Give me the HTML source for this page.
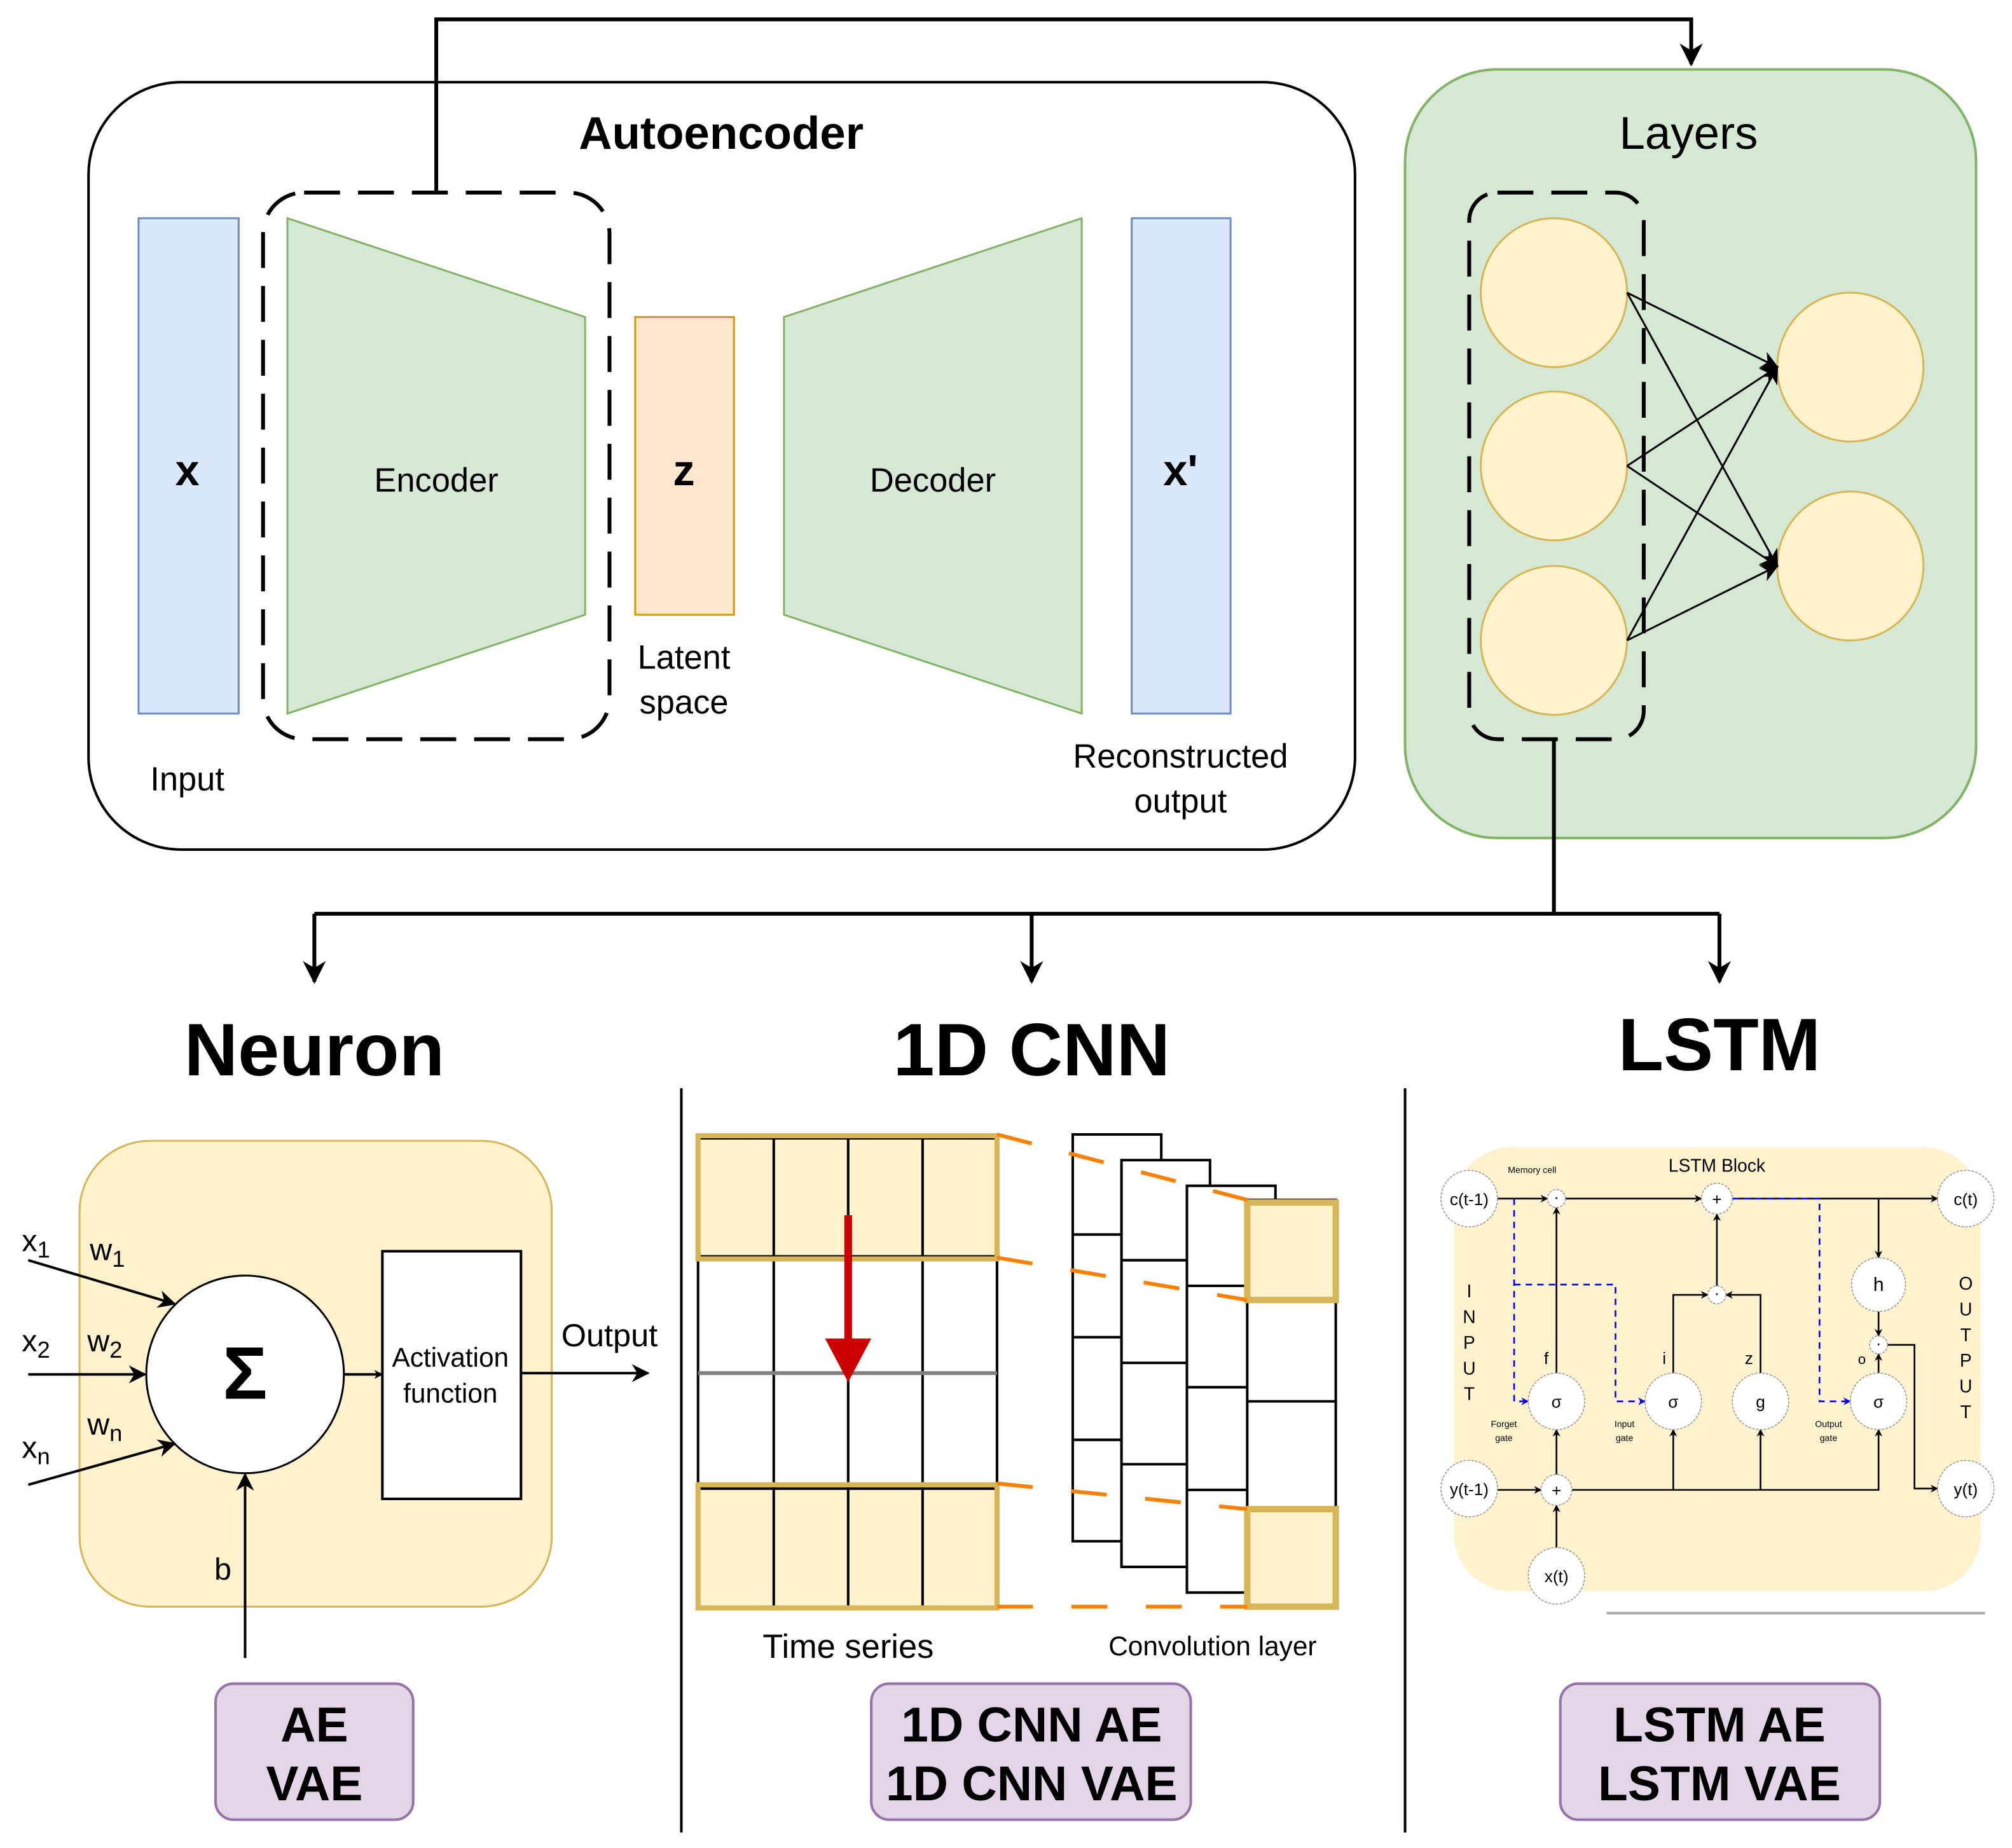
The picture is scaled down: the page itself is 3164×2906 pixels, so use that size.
<!DOCTYPE html>
<html><head><meta charset="utf-8"><style>
html,body{margin:0;padding:0;background:#fff}
svg{display:block}
text{font-family:"Liberation Sans",Arial,sans-serif}
</style></head><body>
<svg width="3164" height="2906" viewBox="0 0 1568 1440" xmlns="http://www.w3.org/2000/svg">
<defs>
<marker id="a" viewBox="0 0 10 10" refX="9" refY="5" markerWidth="7" markerHeight="7" orient="auto" markerUnits="userSpaceOnUse"><path d="M0,0 L10,5 L0,10 L3,5 z" fill="#000"/></marker>
<marker id="A" viewBox="0 0 10 10" refX="9" refY="5" markerWidth="18" markerHeight="18" orient="auto" markerUnits="userSpaceOnUse"><path d="M0,0 L10,5 L0,10 L3,5 z" fill="#000"/></marker>
<marker id="B" viewBox="0 0 10 10" refX="9" refY="5" markerWidth="14" markerHeight="14" orient="auto" markerUnits="userSpaceOnUse"><path d="M0,0 L10,5 L0,10 L3,5 z" fill="#000"/></marker>
<marker id="s" viewBox="0 0 10 10" refX="9" refY="5" markerWidth="6" markerHeight="6" orient="auto" markerUnits="userSpaceOnUse"><path d="M0,0 L10,5 L0,10 L3,5 z" fill="#000"/></marker>
<marker id="sb" viewBox="0 0 10 10" refX="9" refY="5" markerWidth="6" markerHeight="6" orient="auto" markerUnits="userSpaceOnUse"><path d="M0,0 L10,5 L0,10 L3,5 z" fill="#00f"/></marker>
</defs>

<!-- top connector -->
<polyline points="340,150 340,15 1318,15 1318,50" fill="none" stroke="#000" stroke-width="3" marker-end="url(#A)"/>

<!-- Autoencoder -->
<rect x="69" y="64" width="987" height="598" rx="72" fill="none" stroke="#000" stroke-width="2"/>
<text x="562" y="116" font-size="36" font-weight="bold" text-anchor="middle">Autoencoder</text>
<rect x="108" y="170" width="78" height="386" fill="#dae8fc" stroke="#6c8ebf" stroke-width="1.5"/>
<text x="146" y="378" font-size="34" font-weight="bold" text-anchor="middle">x</text>
<polygon points="224,170 456,247 456,479 224,556" fill="#d5e8d4" stroke="#82b366" stroke-width="1.5"/>
<text x="340" y="383" font-size="26" text-anchor="middle">Encoder</text>
<rect x="495" y="247" width="77" height="232" fill="#ffe6cc" stroke="#d79b00" stroke-width="1.5"/>
<text x="533" y="378" font-size="34" font-weight="bold" text-anchor="middle">z</text>
<polygon points="611,247 843,170 843,556 611,479" fill="#d5e8d4" stroke="#82b366" stroke-width="1.5"/>
<text x="727" y="383" font-size="26" text-anchor="middle">Decoder</text>
<rect x="882" y="170" width="77" height="386" fill="#dae8fc" stroke="#6c8ebf" stroke-width="1.5"/>
<text x="920" y="378" font-size="34" font-weight="bold" text-anchor="middle">x'</text>
<rect x="205" y="150" width="270" height="426" rx="32" fill="none" stroke="#000" stroke-width="3" stroke-dasharray="28,14"/>
<text x="146" y="616" font-size="26" text-anchor="middle">Input</text>
<text x="533" y="521" font-size="26" text-anchor="middle">Latent</text>
<text x="533" y="556" font-size="26" text-anchor="middle">space</text>
<text x="920" y="598" font-size="26" text-anchor="middle">Reconstructed</text>
<text x="920" y="633" font-size="26" text-anchor="middle">output</text>

<!-- Layers -->
<rect x="1095" y="54" width="445" height="599" rx="72" fill="#d5e8d4" stroke="#82b366" stroke-width="2"/>
<text x="1316" y="116" font-size="36" text-anchor="middle">Layers</text>
<g fill="#fff2cc" stroke="#d6b656" stroke-width="1.5">
<ellipse cx="1211" cy="228" rx="57" ry="58"/>
<ellipse cx="1211" cy="363" rx="57" ry="58"/>
<ellipse cx="1211" cy="499" rx="57" ry="58"/>
<ellipse cx="1442" cy="286" rx="57" ry="58"/>
<ellipse cx="1442" cy="441" rx="57" ry="58"/>
</g>
<g stroke="#000" stroke-width="1.5" marker-end="url(#B)">
<line x1="1268" y1="228" x2="1385" y2="286"/>
<line x1="1268" y1="228" x2="1385" y2="441"/>
<line x1="1268" y1="363" x2="1385" y2="286"/>
<line x1="1268" y1="363" x2="1385" y2="441"/>
<line x1="1268" y1="499" x2="1385" y2="286"/>
<line x1="1268" y1="499" x2="1385" y2="441"/>
</g>
<rect x="1145" y="150" width="136" height="426" rx="22" fill="none" stroke="#000" stroke-width="3" stroke-dasharray="28,14"/>

<!-- split connector -->
<g fill="none" stroke="#000" stroke-width="3">
<polyline points="1211,576 1211,712"/>
<line x1="245" y1="712" x2="1340" y2="712"/>
<line x1="245" y1="712" x2="245" y2="765" marker-end="url(#A)"/>
<line x1="804" y1="712" x2="804" y2="765" marker-end="url(#A)"/>
<line x1="1340" y1="712" x2="1340" y2="765" marker-end="url(#A)"/>
</g>

<text x="245" y="838" font-size="58" font-weight="bold" text-anchor="middle">Neuron</text>
<text x="804" y="838" font-size="58" font-weight="bold" text-anchor="middle">1D CNN</text>
<text x="1340" y="834" font-size="58" font-weight="bold" text-anchor="middle">LSTM</text>
<line x1="531" y1="848" x2="531" y2="1428" stroke="#000" stroke-width="2"/>
<line x1="1095" y1="848" x2="1095" y2="1428" stroke="#000" stroke-width="2"/>

<!-- Neuron -->
<rect x="62" y="889" width="368" height="363" rx="55" fill="#fff2cc" stroke="#d6b656" stroke-width="1.5"/>
<ellipse cx="191" cy="1071" rx="77" ry="77" fill="#fff" stroke="#000" stroke-width="1.5"/>
<text x="191" y="1090" font-size="58" font-weight="bold" text-anchor="middle">Σ</text>
<rect x="298" y="975" width="108" height="193" fill="#fff" stroke="#000" stroke-width="2"/>
<text x="351" y="1065" font-size="21" text-anchor="middle">Activation</text>
<text x="351" y="1093" font-size="21" text-anchor="middle">function</text>
<g stroke="#000" stroke-width="2">
<line x1="268" y1="1071" x2="298" y2="1071" marker-end="url(#a)"/>
<line x1="406" y1="1070" x2="505" y2="1070" marker-end="url(#B)"/>
<line x1="22" y1="982" x2="136" y2="1016" marker-end="url(#B)"/>
<line x1="22" y1="1071" x2="113" y2="1071" marker-end="url(#B)"/>
<line x1="22" y1="1157" x2="136" y2="1125" marker-end="url(#B)"/>
<line x1="191" y1="1292" x2="191" y2="1149" marker-end="url(#B)"/>
</g>
<text x="475" y="1049" font-size="25" text-anchor="middle">Output</text>
<g font-size="24">
<text x="17" y="975">x<tspan font-size="18" dy="5">1</tspan></text>
<text x="70" y="982">w<tspan font-size="18" dy="5">1</tspan></text>
<text x="17" y="1053">x<tspan font-size="18" dy="5">2</tspan></text>
<text x="68" y="1053">w<tspan font-size="18" dy="5">2</tspan></text>
<text x="17" y="1136">x<tspan font-size="18" dy="5">n</tspan></text>
<text x="68" y="1118">w<tspan font-size="18" dy="5">n</tspan></text>
<text x="167" y="1231">b</text>
</g>

<!-- 1D CNN time series -->
<rect x="544" y="885" width="233" height="95" fill="#fff2cc"/>
<rect x="544" y="1158" width="233" height="94" fill="#fff2cc"/>
<g stroke="#000" stroke-width="2" fill="none">
<rect x="544" y="887" width="233" height="365"/>
<line x1="603" y1="887" x2="603" y2="1252"/>
<line x1="661" y1="887" x2="661" y2="1252"/>
<line x1="719" y1="887" x2="719" y2="1252"/>
<line x1="544" y1="979" x2="777" y2="979"/>
<line x1="544" y1="1160" x2="777" y2="1160"/>
</g>
<line x1="544" y1="1070" x2="777" y2="1070" stroke="#808080" stroke-width="3"/>
<rect x="544" y="885" width="233" height="96" fill="none" stroke="#d6b656" stroke-width="4"/>
<rect x="544" y="1157" width="233" height="96" fill="none" stroke="#d6b656" stroke-width="4"/>
<line x1="661" y1="947" x2="661" y2="1050" stroke="#c00" stroke-width="6"/>
<polygon points="643,1043 679,1043 661,1077" fill="#c00"/>

<!-- conv layers -->
<g stroke="#000" stroke-width="2" fill="#fff">
<rect x="836" y="884" width="69" height="317"/>
<line x1="836" y1="962" x2="874" y2="962"/><line x1="836" y1="1042" x2="874" y2="1042"/><line x1="836" y1="1122" x2="874" y2="1122"/>
<rect x="874" y="904" width="69" height="317"/>
<line x1="874" y1="982" x2="925" y2="982"/><line x1="874" y1="1062" x2="925" y2="1062"/><line x1="874" y1="1141" x2="925" y2="1141"/>
<rect x="925" y="924" width="69" height="317"/>
<line x1="925" y1="1002" x2="972" y2="1002"/><line x1="925" y1="1081" x2="972" y2="1081"/><line x1="925" y1="1161" x2="972" y2="1161"/>
<rect x="972" y="935" width="69" height="317"/>
<line x1="972" y1="1092" x2="1041" y2="1092"/>
</g>
<rect x="972" y="937" width="69" height="76" fill="#fff2cc" stroke="#d6b656" stroke-width="5"/>
<rect x="972" y="1176" width="69" height="76" fill="#fff2cc" stroke="#d6b656" stroke-width="5"/>
<g stroke="#ff8000" stroke-width="3" fill="none" stroke-dasharray="28,30">
<line x1="777" y1="884" x2="972" y2="935"/>
<line x1="777" y1="980" x2="972" y2="1013"/>
<line x1="777" y1="1156" x2="972" y2="1176"/>
<line x1="777" y1="1252" x2="972" y2="1252"/>
</g>
<text x="661" y="1292" font-size="26" text-anchor="middle">Time series</text>
<text x="945" y="1290" font-size="21" text-anchor="middle">Convolution layer</text>

<!-- LSTM -->
<rect x="1133" y="894" width="411" height="346" rx="45" fill="#fff2cc"/>
<line x1="1252" y1="1257" x2="1547" y2="1257" stroke="#aaa" stroke-width="2"/>
<g stroke="#000" stroke-width="1.3" fill="none">
<line x1="1167" y1="934" x2="1206" y2="934" marker-end="url(#s)"/>
<line x1="1220" y1="934" x2="1326" y2="934" marker-end="url(#s)"/>
<line x1="1350" y1="934" x2="1510" y2="934" marker-end="url(#s)"/>
<line x1="1464" y1="934" x2="1464" y2="980" marker-end="url(#s)"/>
<line x1="1464" y1="1022" x2="1464" y2="1041" marker-end="url(#s)"/>
<line x1="1464" y1="1070" x2="1464" y2="1055" marker-end="url(#s)"/>
<polyline points="1471,1048 1492,1048 1492,1160 1510,1160" marker-end="url(#s)"/>
<line x1="1213" y1="1070" x2="1213" y2="941" marker-end="url(#s)"/>
<line x1="1167" y1="1161" x2="1201" y2="1161" marker-end="url(#s)"/>
<polyline points="1225,1161 1464,1161 1464,1114" marker-end="url(#s)"/>
<line x1="1304" y1="1161" x2="1304" y2="1114" marker-end="url(#s)"/>
<line x1="1372" y1="1161" x2="1372" y2="1114" marker-end="url(#s)"/>
<line x1="1213" y1="1206" x2="1213" y2="1173" marker-end="url(#s)"/>
<line x1="1213" y1="1149" x2="1213" y2="1114" marker-end="url(#s)"/>
<polyline points="1304,1070 1304,1009 1331,1009" marker-end="url(#s)"/>
<polyline points="1372,1070 1372,1009 1345,1009" marker-end="url(#s)"/>
<line x1="1338" y1="1002" x2="1338" y2="946" marker-end="url(#s)"/>
</g>
<g stroke="#00f" stroke-width="1.3" fill="none" stroke-dasharray="5,4">
<polyline points="1180,934 1180,1092 1191,1092" marker-end="url(#sb)"/>
<polyline points="1180,1001 1259,1001 1259,1092 1282,1092" marker-end="url(#sb)"/>
<polyline points="1350,934 1418,934 1418,1092 1442,1092" marker-end="url(#sb)"/>
</g>
<g fill="#fff" stroke="#999" stroke-width="0.8" stroke-dasharray="2,1">
<circle cx="1145" cy="934" r="22"/><circle cx="1532" cy="934" r="22"/>
<circle cx="1145" cy="1160" r="22"/><circle cx="1532" cy="1160" r="22"/>
<circle cx="1213" cy="1228" r="22"/>
<circle cx="1213" cy="1092" r="22"/><circle cx="1304" cy="1092" r="22"/>
<circle cx="1372" cy="1092" r="22"/><circle cx="1464" cy="1092" r="22"/>
<circle cx="1464" cy="1001" r="21"/>
<circle cx="1213" cy="934" r="7"/><circle cx="1338" cy="934" r="12"/>
<circle cx="1338" cy="1009" r="7"/><circle cx="1464" cy="1048" r="7"/>
<circle cx="1213" cy="1161" r="12"/>
</g>
<g font-size="13" text-anchor="middle">
<text x="1145" y="939">c(t-1)</text><text x="1532" y="939">c(t)</text>
<text x="1145" y="1165">y(t-1)</text><text x="1532" y="1165">y(t)</text>
<text x="1213" y="1233">x(t)</text>
<text x="1213" y="1097">σ</text><text x="1304" y="1097">σ</text>
<text x="1372" y="1097">g</text><text x="1464" y="1097">σ</text>
<text x="1464" y="1006" font-size="15">h</text>
<text x="1338" y="939">+</text><text x="1213" y="1166">+</text>
<text x="1213" y="937">·</text><text x="1338" y="1012">·</text><text x="1464" y="1051">·</text>
<text x="1338" y="913" font-size="14">LSTM Block</text>
<text x="1194" y="914" font-size="7">Memory cell</text>
<text x="1205" y="1063">f</text><text x="1297" y="1063">i</text>
<text x="1363" y="1063">z</text><text x="1451" y="1063" font-size="11">o</text>
<text x="1172" y="1112" font-size="7">Forget</text><text x="1172" y="1123" font-size="7">gate</text>
<text x="1266" y="1112" font-size="7">Input</text><text x="1266" y="1123" font-size="7">gate</text>
<text x="1425" y="1112" font-size="7">Output</text><text x="1425" y="1123" font-size="7">gate</text>
</g>
<g font-size="14" text-anchor="middle">
<text x="1145" y="1011">I</text><text x="1145" y="1031">N</text><text x="1145" y="1051">P</text><text x="1145" y="1071">U</text><text x="1145" y="1091">T</text>
<text x="1532" y="1005">O</text><text x="1532" y="1025">U</text><text x="1532" y="1045">T</text><text x="1532" y="1065">P</text><text x="1532" y="1085">U</text><text x="1532" y="1105">T</text>
</g>

<!-- purple boxes -->
<g fill="#e1d5e7" stroke="#9673a6" stroke-width="2">
<rect x="168" y="1312" width="154" height="106" rx="14"/>
<rect x="679" y="1312" width="249" height="106" rx="14"/>
<rect x="1216" y="1312" width="249" height="106" rx="14"/>
</g>
<g font-size="38" font-weight="bold" text-anchor="middle">
<text x="245" y="1357">AE</text><text x="245" y="1403">VAE</text>
<text x="804" y="1357">1D CNN AE</text><text x="804" y="1403">1D CNN VAE</text>
<text x="1340" y="1357">LSTM AE</text><text x="1340" y="1403">LSTM VAE</text>
</g>
</svg>
</body></html>
